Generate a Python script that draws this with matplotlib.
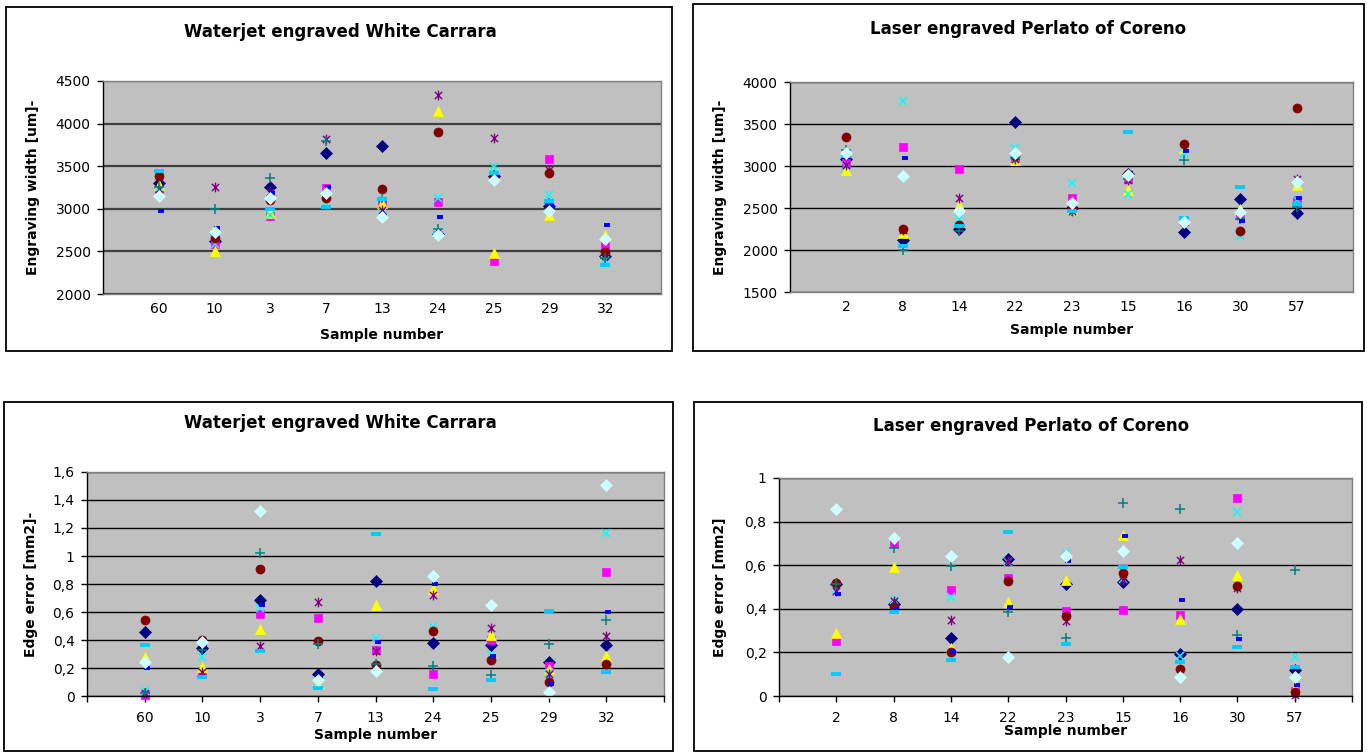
import matplotlib
matplotlib.use("Agg")
import matplotlib.pyplot as plt
import matplotlib.transforms as mtransforms
from matplotlib.patches import Rectangle
from matplotlib.path import Path
import numpy as np

W, H = 1367, 753

# categories (sample numbers)
waterjet_samples = ["60", "10", "3", "7", "13", "24", "25", "29", "32"]
laser_samples = ["2", "8", "14", "22", "23", "15", "16", "30", "57"]

# one row per measurement series, one column per sample
waterjet_width = [
    [3300, 2620, 3250, 3655, 3735, 2700, 3380, 3035, 2450],
    [3220, 2590, 2910, 3240, 3085, 3075, 2390, 3580, 2580],
    [3280, 2500, 2950, 3220, 3065, 4145, 2480, 2930, 2690],
    [3200, 2590, 2930, 3065, 2950, 3130, 3490, 3160, 2400],
    [3230, 3250, 3200, 3820, 2990, 4330, 3835, 3455, 2460],
    [3390, 2660, 3100, 3130, 3235, 3905, 3375, 3415, 2495],
    [3250, 3000, 3360, 3790, 3130, 2765, 3400, 3065, 2420],
    [2975, 2770, 3180, 3260, 2910, 2900, 3395, 3030, 2810],
    [3440, 2700, 3000, 3020, 3110, 2715, 3425, 3095, 2345],
    [3150, 2730, 3130, 3190, 2900, 2690, 3340, 2980, 2645],
]

laser_width = [
    [3080, 2120, 2250, 3520, 2500, 2910, 2220, 2605, 2440],
    [3035, 3230, 2960, 3094, 2625, 2845, 2350, 2430, 2600],
    [2950, 2200, 2530, 3070, 2490, 2720, 3220, 2490, 2770],
    [3000, 3775, 2370, 3210, 2795, 2665, 3160, 2170, 2590],
    [3010, 2240, 2625, 3080, 2460, 2833, 2330, 2410, 2845],
    [3350, 2250, 2300, 3120, 2510, 2900, 3260, 2230, 3690],
    [3190, 2000, 2230, 3100, 2470, 2850, 3070, 2370, 2510],
    [3110, 3100, 2280, 3140, 2530, 2920, 3180, 2340, 2625],
    [3120, 2045, 2285, 3130, 2460, 3400, 2380, 2755, 2550],
    [3150, 2875, 2470, 3150, 2560, 2895, 2330, 2450, 2805],
]

waterjet_edge = [
    [0.457, 0.344, 0.683, 0.159, 0.822, 0.379, 0.367, 0.244, 0.367],
    [0.005, 0.159, 0.588, 0.555, 0.332, 0.154, 0.398, 0.213, 0.889],
    [0.277, 0.206, 0.479, 0.083, 0.652, 0.763, 0.434, 0.190, 0.284],
    [0.035, 0.277, 0.630, 0.107, 0.417, 0.490, 0.292, 0.166, 1.161],
    [0.024, 0.171, 0.356, 0.668, 0.320, 0.723, 0.486, 0.159, 0.427],
    [0.540, 0.403, 0.905, 0.396, 0.223, 0.465, 0.254, 0.102, 0.232],
    [0.020, 0.330, 1.019, 0.372, 0.232, 0.216, 0.149, 0.372, 0.540],
    [0.200, 0.367, 0.652, 0.128, 0.386, 0.799, 0.284, 0.088, 0.597],
    [0.365, 0.137, 0.320, 0.055, 1.159, 0.047, 0.114, 0.609, 0.171],
    [0.242, 0.386, 1.320, 0.114, 0.182, 0.858, 0.652, 0.031, 1.507],
]

laser_edge = [
    [0.513, 0.420, 0.265, 0.628, 0.513, 0.524, 0.191, 0.401, 0.118],
    [0.253, 0.700, 0.487, 0.541, 0.390, 0.394, 0.372, 0.908, 0.023],
    [0.291, 0.594, 0.222, 0.433, 0.531, 0.738, 0.355, 0.554, 0.038],
    [0.490, 0.441, 0.452, 0.613, 0.655, 0.536, 0.184, 0.844, 0.181],
    [0.482, 0.436, 0.348, 0.620, 0.345, 0.530, 0.626, 0.495, 0.005],
    [0.518, 0.410, 0.202, 0.528, 0.368, 0.562, 0.123, 0.504, 0.018],
    [0.516, 0.678, 0.597, 0.386, 0.265, 0.884, 0.858, 0.279, 0.579],
    [0.470, 0.398, 0.204, 0.409, 0.617, 0.735, 0.440, 0.260, 0.049],
    [0.100, 0.387, 0.165, 0.753, 0.237, 0.594, 0.158, 0.225, 0.133],
    [0.858, 0.727, 0.643, 0.179, 0.640, 0.666, 0.087, 0.703, 0.087],
]

# Excel-like star: X with a vertical bar
star = Path([(0, -1), (0, 1), (-0.75, -0.75), (0.75, 0.75), (-0.75, 0.75), (0.75, -0.75)],
            [Path.MOVETO, Path.LINETO] * 3)

# marker, colour, size, edge width, x offset (px)
styles = [
    ("D", "#000080", 6, 0.5, 0),
    ("s", "#FF00FF", 6, 0.5, 0),
    ("^", "#FFFF00", 6.5, 0.5, 0),
    ("x", "#00FFFF", 6, 1.1, 0),
    (star, "#800080", 7, 1.0, 0),
    ("o", "#800000", 6.5, 0.5, 0),
    ("+", "#008080", 7, 1.1, 0),
    ("_", "#0000FF", 4, 2.8, 2),
    ("_", "#00CCFF", 7, 2.8, 0),
    ("D", "#CCFFFF", 6, 0.5, 0),
]


def fx(x):
    return x / W


def fy(y):
    return 1 - y / H


def ax_rect(l, t, r, b):
    return [l / W, 1 - b / H, (r - l) / W, (b - t) / H]


def comma(v):
    s = f"{v:.1f}".rstrip("0").rstrip(".")
    return s.replace(".", ",")


fig = plt.figure(figsize=(W / 100, H / 100), dpi=100)
fig.patch.set_facecolor("white")

panels = [
    dict(frame=(6, 7, 672, 351), plot=(103, 81, 661, 294), title="Waterjet engraved White Carrara",
         tpos=(340, 32), ylabel="Engraving width [um]-", ylx=33, xlab_y=335,
         cats=waterjet_samples, data=waterjet_width, ylim=(2000, 4500), step=500,
         fmt=lambda v: f"{v:.0f}", xticks=False, grid=("#404040", 1.6)),
    dict(frame=(693, 4, 1364, 351), plot=(790, 82, 1353, 292), title="Laser engraved Perlato of Coreno",
         tpos=(1028, 29), ylabel="Engraving width [um]-", ylx=720, xlab_y=330,
         cats=laser_samples, data=laser_width, ylim=(1500, 4000), step=500,
         fmt=lambda v: f"{v:.0f}", xticks=False, grid=("black", 1.0)),
    dict(frame=(4, 402, 673, 751), plot=(87, 472, 664, 696), title="Waterjet engraved White Carrara",
         tpos=(340, 423), ylabel="Edge error [mm2]-", ylx=31, xlab_y=735,
         cats=waterjet_samples, data=waterjet_edge, ylim=(0, 1.6), step=0.2,
         fmt=comma, xticks=True, grid=("black", 1.0)),
    dict(frame=(694, 402, 1362, 751), plot=(779, 478, 1352, 696), title="Laser engraved Perlato of Coreno",
         tpos=(1031, 426), ylabel="Edge error [mm2]", ylx=720, xlab_y=731,
         cats=laser_samples, data=laser_edge, ylim=(0, 1.0), step=0.2,
         fmt=comma, xticks=True, grid=("black", 1.0)),
]

for p in panels:
    l, t, r, b = p["frame"]
    fig.patches.append(Rectangle((fx(l), fy(b)), (r - l) / W, (b - t) / H,
                                 transform=fig.transFigure, fill=False,
                                 edgecolor="black", linewidth=1.3, zorder=0))

    ax = fig.add_axes(ax_rect(*p["plot"]))
    ax.set_facecolor("#C0C0C0")
    ax.set_xlim(0, len(p["cats"]) + 1)
    ax.set_ylim(*p["ylim"])

    yt = np.arange(p["ylim"][0], p["ylim"][1] + p["step"] / 2, p["step"])
    ax.set_yticks(yt)
    ax.set_yticklabels([p["fmt"](v) for v in yt], fontsize=10)
    ax.yaxis.grid(True, color=p["grid"][0], linewidth=p["grid"][1])
    ax.set_axisbelow(True)

    xs = np.arange(1, len(p["cats"]) + 1)
    if p["xticks"]:
        ax.set_xticks(np.arange(0, len(p["cats"]) + 2))
        ax.set_xticklabels([""] + p["cats"] + [""], fontsize=10)
        ax.tick_params(axis="x", length=4, width=1, pad=7)
        ax.spines["bottom"].set_color("black")
    else:
        ax.set_xticks(xs)
        ax.set_xticklabels(p["cats"], fontsize=10)
        ax.tick_params(axis="x", length=0, pad=6)
        ax.spines["bottom"].set_color("#808080")
    ax.tick_params(axis="y", length=4, width=1, pad=5)

    for side in ("top", "right"):
        ax.spines[side].set_color("#808080")
    ax.spines["left"].set_color("black")
    for s in ax.spines.values():
        s.set_linewidth(1.0)

    for vals, (mk, col, ms, mew, dx) in zip(p["data"], styles):
        tr = ax.transData
        if dx:
            tr = mtransforms.offset_copy(ax.transData, fig=fig, x=dx, y=0, units="dots")
        ax.plot(xs, vals, linestyle="none", marker=mk, color=col, markersize=ms,
                markeredgewidth=mew, markeredgecolor=col, transform=tr, clip_on=False)

    fig.text(fx(p["tpos"][0]), fy(p["tpos"][1]), p["title"], ha="center", va="center",
             fontsize=12, fontweight="bold")
    pl, pt, pr, pb = p["plot"]
    fig.text(fx(p["ylx"]), fy((pt + pb) / 2), p["ylabel"], rotation=90, ha="center",
             va="center", fontsize=10, fontweight="bold")
    fig.text(fx((pl + pr) / 2), fy(p["xlab_y"]), "Sample number", ha="center",
             va="center", fontsize=10, fontweight="bold")

fig.savefig("out.png", dpi=100, facecolor="white")
